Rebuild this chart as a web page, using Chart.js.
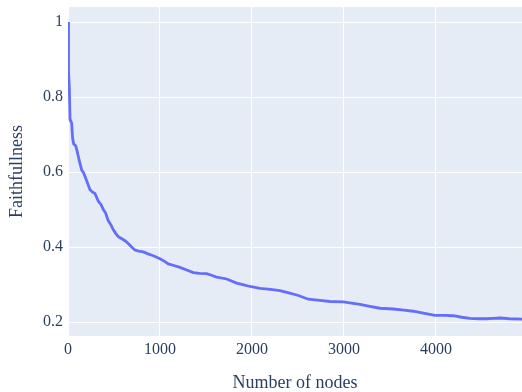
<!DOCTYPE html>
<html>
<head>
<meta charset="utf-8">
<script src="https://cdn.jsdelivr.net/npm/chart.js@4"></script>
<style>
  html, body { margin: 0; padding: 0; background: #ffffff; }
  #wrap { width: 522px; height: 392px; }
</style>
</head>
<body>
<div id="wrap"><canvas id="chart" width="522" height="392"></canvas></div>
<script>
// Faithfulness of the explanation as nodes are added
const nodeCounts = [0, 3, 8, 15, 22, 30, 40, 50, 62, 84, 100, 120, 149, 170, 185, 210, 239, 264, 293, 330,
  360, 384, 410, 438, 465, 493, 520, 547, 580, 620, 660, 700, 728, 770, 819, 870, 927, 1000, 1050, 1090,
  1150, 1217, 1290, 1362, 1430, 1507, 1560, 1616, 1725, 1833, 1900, 1978, 2087, 2200, 2304, 2400, 2504,
  2612, 2739, 2848, 2993, 3100, 3174, 3280, 3391, 3536, 3650, 3754, 3862, 3989, 4100, 4188, 4280, 4370,
  4460, 4551, 4620, 4696, 4800, 4935];
const faithfulness = [1.0, 0.90, 0.87, 0.82, 0.74, 0.736, 0.73, 0.69, 0.675, 0.67, 0.655, 0.633, 0.605,
  0.598, 0.588, 0.572, 0.553, 0.547, 0.543, 0.522, 0.513, 0.500, 0.49, 0.47, 0.46, 0.446, 0.436, 0.428,
  0.423, 0.417, 0.408, 0.398, 0.392, 0.389, 0.387, 0.382, 0.377, 0.369, 0.362, 0.355, 0.351, 0.346, 0.339,
  0.332, 0.330, 0.329, 0.325, 0.320, 0.315, 0.304, 0.300, 0.295, 0.290, 0.287, 0.284, 0.278, 0.271, 0.261,
  0.258, 0.255, 0.254, 0.250, 0.247, 0.242, 0.237, 0.235, 0.232, 0.229, 0.224, 0.218, 0.218, 0.217, 0.213,
  0.210, 0.209, 0.209, 0.210, 0.211, 0.209, 0.208];
const xTickValues = [0, 1000, 2000, 3000, 4000];
const yTickValues = [0.2, 0.4, 0.6, 0.8, 1];
const xTitle = 'Number of nodes';
const yTitle = 'Faithfullness';

const points = nodeCounts.map((n, i) => ({ x: n, y: faithfulness[i] }));

const FONT = "'Liberation Serif', 'Times New Roman', serif";
const TEXT = '#2a3f5f';

// paint the plot area background
const plotBackground = {
  id: 'plotBackground',
  beforeDraw(chart) {
    const { ctx, chartArea: a } = chart;
    ctx.save();
    ctx.fillStyle = '#e5ecf6';
    ctx.fillRect(a.left, a.top, a.right - a.left, a.bottom - a.top);
    ctx.restore();
  }
};

new Chart(document.getElementById('chart'), {
  type: 'line',
  data: {
    datasets: [{
      data: points,
      borderColor: '#636efa',
      borderWidth: 2.8,
      pointRadius: 0,
      tension: 0,
      fill: false
    }]
  },
  options: {
    responsive: false,
    animation: false,
    layout: { padding: { top: 7, right: 0, bottom: 0, left: 0 } },
    plugins: { legend: { display: false }, tooltip: { enabled: false } },
    scales: {
      x: {
        type: 'linear',
        min: 0,
        max: 4935,
        afterBuildTicks(scale) { scale.ticks = xTickValues.map(v => ({ value: v })); },
        afterFit(scale) {
          scale.height = 56;
          scale.paddingLeft = 0;
          scale.paddingRight = 0;
        },
        grid: { color: '#ffffff', lineWidth: 1, drawTicks: false },
        border: { display: false },
        ticks: {
          padding: 4,
          maxRotation: 0,
          color: TEXT,
          font: { family: FONT, size: 16 },
          callback: v => String(v)
        },
        title: {
          display: true,
          text: xTitle,
          color: TEXT,
          font: { family: FONT, size: 18, lineHeight: 1 },
          padding: { top: 0, bottom: 0 }
        }
      },
      y: {
        type: 'linear',
        min: 0.163,
        max: 1.04,
        afterBuildTicks(scale) { scale.ticks = yTickValues.map(v => ({ value: v })); },
        afterFit(scale) {
          scale.width = 68;
          scale.paddingTop = 0;
          scale.paddingBottom = 0;
        },
        grid: { color: '#ffffff', lineWidth: 1, drawTicks: false },
        border: { display: false },
        ticks: {
          padding: 5,
          color: TEXT,
          font: { family: FONT, size: 16 },
          callback: v => String(Math.round(v * 10) / 10)
        },
        title: {
          display: true,
          text: yTitle,
          color: TEXT,
          font: { family: FONT, size: 18, lineHeight: 1 },
          padding: { top: 8, bottom: 0 }
        }
      }
    }
  },
  plugins: [plotBackground]
});
</script>
</body>
</html>
